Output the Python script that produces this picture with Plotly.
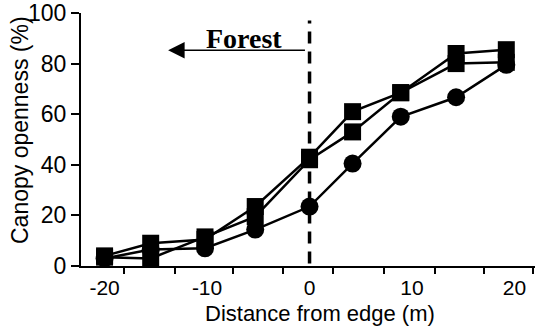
import plotly.graph_objects as go

# Data
distance = [-20.0, -15.5, -10.2, -5.3, 0.0, 4.2, 8.9, 14.3, 19.2]
series_a = [4.0, 9.0, 10.5, 23.5, 43.0, 61.0, 68.5, 84.0, 85.5]
series_b = [3.5, 3.0, 11.5, 19.5, 42.0, 53.0, 68.5, 80.0, 80.5]
series_c = [3.0, 6.5, 7.0, 14.4, 23.5, 40.5, 59.0, 66.7, 79.5]

y_ticks = [0, 20, 40, 60, 80, 100]
x_label_vals = [-20, -10, 0, 10, 20]
x_label_text = ["-20", "-10", "0", "10", "20"]
x_tick_marks = [-18.1, -13.1, -7.5, -2.6, 2.3, 7.3, 12.2, 17.0, 21.8]

X_RANGE = [-22.3, 22.0]
SANS = "Liberation Sans, Arial, Helvetica, sans-serif"

L, R, T, B = 81, 1, 13, 60
W, H = 536, 326
PW, PH = W - L - R, H - T - B

fig = go.Figure()

line_style = dict(color="black", width=2.5)
fig.add_trace(go.Scatter(x=distance, y=series_a, mode="lines+markers",
                         line=line_style, cliponaxis=False,
                         marker=dict(symbol="square", size=17, color="black")))
fig.add_trace(go.Scatter(x=distance, y=series_b, mode="lines+markers",
                         line=line_style, cliponaxis=False,
                         marker=dict(symbol="square", size=17, color="black")))
fig.add_trace(go.Scatter(x=distance, y=series_c, mode="lines+markers",
                         line=line_style, cliponaxis=False,
                         marker=dict(symbol="circle", size=18, color="black")))
# invisible trace to carry the label axis
fig.add_trace(go.Scatter(x=x_label_vals, y=[None] * len(x_label_vals), xaxis="x2",
                         mode="markers", showlegend=False, hoverinfo="skip"))

fig.update_layout(
    width=W, height=H,
    margin=dict(l=L, r=R, t=T, b=B),
    paper_bgcolor="white", plot_bgcolor="white",
    showlegend=False,
    font=dict(family=SANS, color="black"),
    xaxis=dict(range=X_RANGE, tickvals=x_tick_marks, ticktext=[""] * len(x_tick_marks),
               ticks="outside", ticklen=6, tickwidth=2, tickcolor="black",
               showline=True, linewidth=2, linecolor="black",
               showgrid=False, zeroline=False, automargin=False),
    xaxis2=dict(range=X_RANGE, overlaying="x", anchor="y", side="bottom",
                tickvals=x_label_vals, ticktext=x_label_text,
                ticks="outside", ticklen=3, tickcolor="rgba(0,0,0,0)",
                tickfont=dict(size=21, family=SANS, color="black"),
                ticklabeloverflow="allow",
                showline=False, showgrid=False, zeroline=False, automargin=False),
    yaxis=dict(range=[0, 100], tickvals=y_ticks,
               ticks="outside", ticklen=8, tickwidth=2, tickcolor="black",
               tickfont=dict(size=23, family=SANS, color="black"),
               ticklabeloverflow="allow",
               showline=True, linewidth=2, linecolor="black",
               showgrid=False, zeroline=False, automargin=False),
)

# dashed forest edge line
fig.add_shape(type="line", xref="x", yref="y", x0=0, x1=0, y0=1, y1=97,
              line=dict(color="black", width=3.5, dash="12px,8px"), layer="below")

# Forest arrow
fig.add_annotation(x=-13.8, y=85.3, ax=-0.3, ay=85.3, xref="x", yref="y",
                   axref="x", ayref="y", text="", showarrow=True,
                   arrowhead=2, arrowsize=2.2, arrowwidth=1.5, arrowcolor="black")
fig.add_annotation(x=-6.4, y=90, xref="x", yref="y", text="<b>Forest</b>",
                   showarrow=False, xanchor="center", yanchor="middle",
                   font=dict(family="Liberation Serif, Times New Roman, serif",
                             size=28, color="black"))

# axis titles
fig.add_annotation(x=(20 - L) / PW, y=(H - B - 130) / PH, xref="paper", yref="paper",
                   text="Canopy openness (%)", textangle=-90, showarrow=False,
                   xanchor="center", yanchor="middle",
                   font=dict(family=SANS, size=23, color="black"))
fig.add_annotation(x=(320 - L) / PW, y=(H - B - 313) / PH, xref="paper", yref="paper",
                   text="Distance from edge (m)", showarrow=False,
                   xanchor="center", yanchor="middle",
                   font=dict(family=SANS, size=22, color="black"))

fig.write_html("out.html", config={"displayModeBar": False},
               post_script="document.body.style.margin='0';document.body.style.overflow='hidden';")
